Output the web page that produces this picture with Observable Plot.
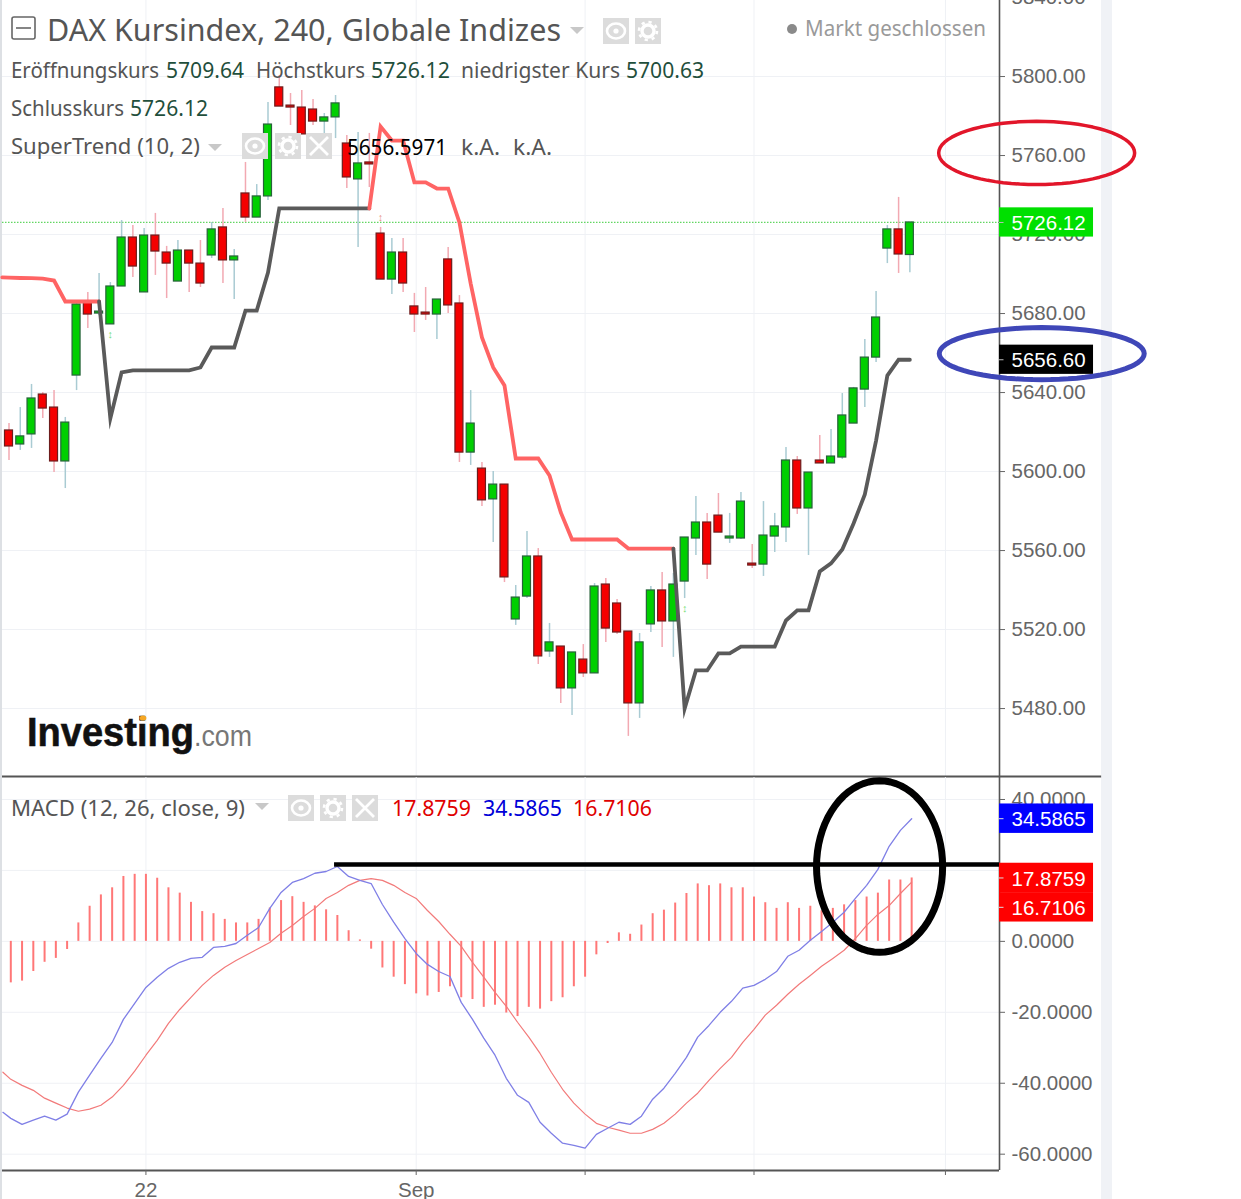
<!DOCTYPE html>
<html><head><meta charset="utf-8">
<style>
html,body{margin:0;padding:0;background:#fff;width:1241px;height:1199px;overflow:hidden}
#top,#bot,#over,#leftStrip,#rightStrip{position:absolute;left:0}
#leftStrip{top:0;width:2px;height:1199px;background:#dde0e4}
#rightStrip{top:0;left:1101px;width:11px;height:1199px;background:#f0f2f6}
#top{top:0}#bot{top:777px}#over{top:0;pointer-events:none}
svg{overflow:hidden}
</style>
<script src="https://cdn.jsdelivr.net/npm/d3@7"></script>
<script src="https://cdn.jsdelivr.net/npm/@observablehq/plot@0.6"></script>
</head><body>
<div id="leftStrip"></div><div id="rightStrip"></div>
<div id="top"></div><div id="bot"></div>
<script>
const opens = [5620.8,5613.7,5618.8,5639.0,5632.4,5605.1,5648.6,5686.1,5680.0,5674.5,
5693.7,5718.5,5690.7,5719.5,5710.9,5696.2,5711.9,5705.3,5709.4,5723.6,
5706.9,5740.8,5728.6,5739.3,5794.5,5785.3,5784.3,5783.3,5777.2,5779.3,
5766.1,5747.9,5756.5,5720.5,5697.2,5710.9,5683.6,5680.5,5679.5,5707.4,
5685.1,5609.6,5601.5,5585.9,5593.4,5525.1,5536.7,5557.0,5508.9,5511.4,
5490.2,5504.8,5497.8,5542.8,5533.2,5519.0,5482.6,5522.6,5539.8,5524.1,
5544.3,5566.1,5574.2,5577.7,5566.1,5566.1,5553.4,5552.9,5567.1,5571.7,
5605.6,5581.3,5605.6,5604.1,5607.1,5624.3,5641.5,5657.7,5712.9,5722.6,5709.64];
const highs = [5624.3,5632.4,5644.1,5640.0,5641.0,5627.4,5685.1,5690.7,5700.3,5695.7,
5727.1,5724.6,5723.1,5730.7,5714.0,5717.0,5711.9,5717.0,5726.1,5733.2,
5712.4,5756.5,5745.3,5786.9,5800.5,5791.4,5792.9,5788.4,5781.3,5790.4,
5770.1,5771.7,5771.2,5723.6,5718.0,5718.0,5690.2,5693.2,5687.1,5713.4,
5689.1,5641.0,5604.6,5600.0,5593.4,5542.3,5569.6,5561.0,5523.1,5511.4,
5508.4,5512.4,5543.3,5545.9,5535.2,5519.0,5518.0,5541.8,5548.9,5548.4,
5566.6,5587.4,5578.8,5588.9,5578.8,5589.4,5563.1,5584.8,5578.8,5612.2,
5607.6,5599.5,5618.3,5621.3,5639.5,5642.6,5666.9,5691.2,5724.6,5738.8,5726.12];
const lows = [5605.6,5610.7,5611.7,5626.9,5599.5,5591.4,5641.0,5672.4,5679.0,5674.5,
5693.7,5698.3,5690.7,5699.3,5687.6,5696.2,5690.7,5693.2,5707.9,5695.2,
5687.1,5726.1,5728.6,5737.2,5784.8,5775.2,5770.7,5775.2,5758.5,5768.6,
5743.3,5713.4,5743.8,5697.2,5689.6,5690.7,5670.4,5676.5,5666.9,5680.0,
5604.6,5603.1,5582.3,5564.1,5543.8,5522.1,5535.7,5502.3,5505.9,5482.6,
5476.5,5495.7,5497.8,5513.5,5517.5,5465.9,5475.0,5518.5,5510.9,5505.9,
5535.7,5557.5,5545.3,5569.1,5563.6,5565.6,5550.9,5546.9,5559.0,5564.1,
5578.3,5557.5,5604.1,5604.1,5606.1,5624.3,5632.4,5655.2,5705.3,5700.3,5700.63];
const closes = [5612.7,5617.8,5637.0,5631.9,5605.1,5624.8,5684.6,5679.5,5681.0,5693.7,
5718.5,5703.8,5719.5,5711.4,5705.3,5711.9,5705.3,5695.2,5722.6,5706.9,
5708.9,5728.6,5739.3,5775.7,5784.8,5784.3,5770.7,5777.2,5779.3,5786.4,
5748.9,5756.0,5755.5,5697.2,5710.9,5695.2,5679.5,5679.5,5687.1,5684.1,
5609.6,5624.3,5585.4,5593.4,5546.4,5536.2,5557.0,5506.4,5513.5,5490.2,
5508.4,5497.8,5541.8,5520.5,5518.5,5482.6,5513.5,5539.8,5524.1,5542.8,
5566.6,5574.2,5552.9,5569.1,5567.1,5584.8,5552.4,5567.6,5572.2,5605.6,
5581.3,5599.5,5604.1,5607.6,5628.4,5642.1,5657.7,5678.0,5722.6,5709.9,5726.12];

const trendDownA = [[-0.6,5698.3],[0,5698.2],[1,5698.0],[2,5697.9],[3,5697.7],[4,5696.7],[5,5686.1],[6,5686.1],[7,5686.1],[8,5686.1]];
const trendUpA = [[8,5686.1],[9,5626.9],[10,5650.2],[11,5651.2],[12,5651.2],[13,5651.2],[14,5651.2],[15,5651.2],[16,5651.2],[17,5652.7],[18,5662.8],[19,5662.8],[20,5662.8],[21,5681.5],[22,5681.5],[23,5700.8],[24,5733.2],[25,5733.2],[26,5733.2],[27,5733.2],[28,5733.2],[29,5733.2],[30,5733.2],[31,5733.2],[32,5733.2]];
const trendDownB = [[32,5733.2],[33,5774.7],[34,5767.6],[35,5767.6],[36,5746.4],[37,5746.4],[38,5743.3],[39,5743.3],[40,5726.1],[41,5695.2],[42,5667.9],[43,5652.7],[44,5643.6],[45,5606.6],[46,5606.6],[47,5606.6],[48,5598.0],[49,5579.3],[50,5565.6],[51,5565.6],[52,5565.6],[53,5565.6],[54,5565.6],[55,5561.0],[56,5561.0],[57,5561.0],[58,5561.0],[59,5561.0]];
const trendUpB = [[59,5561.0],[60,5480.0],[61,5499.3],[62,5499.3],[63,5507.9],[64,5507.9],[65,5511.4],[66,5511.4],[67,5511.4],[68,5511.4],[69,5524.6],[70,5529.7],[71,5529.7],[72,5549.4],[73,5553.5],[74,5560.5],[75,5573.7],[76,5588.4],[77,5615.7],[78,5648.6],[79,5656.6],[80,5656.6]];

const hist = [-11.7,-11.2,-8.5,-5.9,-4.8,-2.3,5.2,9.9,13.1,15.1,
18.3,18.9,18.9,17.8,15.1,13.6,11.0,8.4,7.8,6.2,
5.2,5.2,6.2,9.4,11.5,12.6,11.0,10.0,8.9,7.3,
3.0,0.4,-2.2,-7.5,-10.1,-12.2,-14.8,-15.4,-14.4,-12.8,
-15.9,-16.4,-18.6,-18.0,-20.2,-21.2,-18.6,-19.1,-17.0,-15.9,
-12.8,-10.1,-3.8,-0.6,2.4,2.0,4.6,7.8,8.8,10.8,
13.5,16.2,15.7,16.2,15.1,15.1,12.5,10.9,9.3,10.9,
9.3,9.9,8.6,9.3,10.3,11.5,12.5,13.6,17.3,17.3,17.8759];
const macdLine = [-49.9,-51.6,-50.4,-49.3,-50.4,-48.7,-42.5,-37.7,-33.0,-28.5,
-22.0,-17.5,-13.0,-10.1,-7.6,-5.9,-4.8,-4.5,-1.7,-1.4,
-0.6,1.7,3.9,9.3,13.8,16.6,17.7,19.2,19.7,21.1,
18.3,17.2,16.3,10.4,5.4,0.8,-3.4,-6.5,-8.5,-9.9,
-17.2,-22.0,-27.3,-32.1,-38.6,-43.4,-45.4,-51.0,-54.1,-56.9,
-57.5,-58.3,-54.4,-52.7,-51.0,-51.6,-49.3,-44.5,-41.4,-37.2,
-32.7,-27.0,-23.7,-20.0,-16.9,-13.2,-12.4,-10.7,-8.5,-4.2,
-2.5,0.3,2.8,5.4,8.2,12.1,15.8,20.3,26.8,31.3,34.5865];
const signalLine = [-38.9,-40.6,-42.0,-44.2,-45.6,-47.0,-47.9,-47.3,-46.2,-43.9,
-40.6,-36.6,-32.1,-27.9,-23.1,-19.2,-15.8,-12.4,-9.6,-7.3,
-5.4,-3.7,-2.0,-0.3,2.3,4.5,7.0,9.3,12.1,13.8,
15.8,17.2,17.7,17.2,15.8,13.8,12.1,8.7,5.6,2.0,
-1.4,-5.9,-10.1,-14.4,-18.3,-22.8,-27.0,-31.6,-36.9,-41.7,
-45.6,-48.7,-51.3,-52.4,-53.2,-54.1,-54.1,-53.0,-51.3,-48.7,
-45.6,-42.8,-39.2,-35.8,-32.7,-28.5,-24.8,-20.8,-18.0,-14.9,
-12.1,-9.6,-7.0,-4.8,-2.5,0.8,4.5,7.6,10.1,13.5,16.7106];
const macdLead = -48.2, signalLead = -36.9;

const priceTicks = [5480,5520,5560,5600,5640,5680,5720,5760,5800,5840];
const macdTicks = [-60,-40,-20,0,20,40];
const timeTicks = [12,36,51,66,83];
const timeLabels = {12:"22",36:"Sep"};
const priceTags = [{v:5726.12,label:"5726.12",fill:"#00e000"},{v:5656.60,label:"5656.60",fill:"#000000"}];
const macdTags = [{v:34.5865,label:"34.5865",fill:"#0000ff"},{v:17.8759,label:"17.8759",fill:"#ff0000"},{v:9.6,label:"16.7106",fill:"#ff0000"}];
const upMarks = [[9,5669.4],[60,5530.7]], downMarks = [[33,5728.6]];
const lastClose = 5726.12;

const xDomain = [-0.737,87.8], xPanelEnd = 96.87, tagEnd = 96.15, tagText = 88.87, tagTickEnd = 88.2;
const candleShift = -1.8;
const idx = d3.range(81);
const isUp = i => closes[i] >= opens[i];
const grid = "#eff1f5", ink = "#666";
const font = {fontFamily:"'Liberation Sans',Arial,sans-serif",fontSize:"20.5px",background:"transparent",overflow:"visible"};
const ring = (cx,cy,rx,ry) => d3.range(0,73).map(k=>[cx+rx*Math.cos(k/72*2*Math.PI),cy+ry*Math.sin(k/72*2*Math.PI)]);
const trend = (data,stroke) => Plot.line(data,{x:d=>d[0],y:d=>d[1],stroke,strokeWidth:3.8,dx:candleShift,strokeLinejoin:"miter",strokeMiterlimit:10,curve:"linear"});

const priceDomain = [5445.6,5838.5];
const priceChart = Plot.plot({
  width:1241,height:778,marginTop:0,marginBottom:2,marginLeft:2,marginRight:242,
  style:font,
  x:{type:"linear",domain:xDomain,axis:null},
  y:{type:"linear",domain:priceDomain,axis:null},
  marks:[
    Plot.ruleY(priceTicks,{stroke:grid}),
    Plot.ruleX(timeTicks,{stroke:grid}),
    Plot.ruleY([lastClose],{stroke:"#62d662",strokeDasharray:"1.5 1.5",strokeWidth:1.2}),
    Plot.ruleX(idx,{x:i=>i,y1:i=>lows[i],y2:i=>highs[i],dx:candleShift,strokeWidth:1.5,stroke:i=>isUp(i)?"#a9cbd3":"#f2a9b2"}),
    Plot.rect(idx,{x1:i=>i-0.355,x2:i=>i+0.355,y1:i=>opens[i],y2:i=>closes[i],dx:candleShift,
      fill:i=>isUp(i)?"#00cf00":"#f40000",stroke:i=>isUp(i)?"#27623a":"#6d1c1c",strokeWidth:1.2}),
    trend(trendDownA,"#ff6464"),trend(trendUpA,"#5a5a5a"),trend(trendDownB,"#ff6464"),trend(trendUpB,"#5a5a5a"),
    Plot.text(upMarks,{x:d=>d[0],y:d=>d[1],text:()=>"↕",dx:candleShift,fill:"#7be07b",fontSize:11}),
    Plot.text(downMarks,{x:d=>d[0],y:d=>d[1],text:()=>"↕",dx:candleShift,fill:"#e89a8a",fontSize:11}),
    Plot.ruleX([xDomain[1]],{stroke:"#555",strokeWidth:1.6}),
    Plot.ruleY([priceDomain[0]],{x1:xDomain[0],x2:xPanelEnd,stroke:"#555",strokeWidth:2}),
    Plot.axisY(priceTicks,{anchor:"right",tickSize:5,tickPadding:7,color:ink,tickFormat:d=>d.toFixed(2),label:null}),
    Plot.rect(priceTags,{x1:xDomain[1],x2:tagEnd,y1:d=>d.v-7.4,y2:d=>d.v+7.4,fill:"fill"}),
    Plot.ruleY(priceTags,{y:"v",x1:xDomain[1],x2:tagTickEnd,stroke:"#bbb"}),
    Plot.text(priceTags,{x:tagText,y:"v",dy:1,text:"label",fill:"#fff",textAnchor:"start"}),
    Plot.line(ring(91.1,5761.3,8.7,16),{x:d=>d[0],y:d=>d[1],stroke:"#e2162a",strokeWidth:3.5}),
    Plot.line(ring(91.55,5659.7,9.1,13.2),{x:d=>d[0],y:d=>d[1],stroke:"#3f47b8",strokeWidth:5})
  ]
});
document.getElementById("top").append(priceChart);

const macdDomain = [-64.6,46.2];
const macdChart = Plot.plot({
  width:1241,height:422,marginTop:0,marginBottom:29,marginLeft:2,marginRight:242,
  style:font,
  x:{type:"linear",domain:xDomain,axis:null},
  y:{type:"linear",domain:macdDomain,axis:null},
  marks:[
    Plot.ruleY(macdTicks,{stroke:grid}),
    Plot.ruleX(timeTicks,{stroke:grid}),
    Plot.ruleX(idx,{x:i=>i,y1:0,y2:i=>hist[i],stroke:"#f77",strokeWidth:2}),
    Plot.line([[-0.7,signalLead],...signalLine.map((v,i)=>[i,v])],{x:d=>d[0],y:d=>d[1],stroke:"#f27a7a",strokeWidth:1.2}),
    Plot.line([[-0.7,macdLead],...macdLine.map((v,i)=>[i,v])],{x:d=>d[0],y:d=>d[1],stroke:"#7f7fe6",strokeWidth:1.3}),
    Plot.ruleX([xDomain[1]],{stroke:"#555",strokeWidth:1.6}),
    Plot.ruleY([macdDomain[0]],{stroke:"#555",strokeWidth:2}),
    Plot.axisY(macdTicks,{anchor:"right",tickSize:5,tickPadding:7,color:ink,tickFormat:d=>d.toFixed(4),label:null}),
    Plot.axisX(timeTicks,{anchor:"bottom",tickSize:5,tickPadding:7,color:ink,tickFormat:d=>timeLabels[d]||"",label:null}),
    Plot.rect(macdTags,{x1:xDomain[1],x2:tagEnd,y1:d=>d.v-4.15,y2:d=>d.v+4.15,fill:"fill"}),
    Plot.ruleY(macdTags,{y:"v",x1:xDomain[1],x2:tagTickEnd,stroke:"#ddd"}),
    Plot.text(macdTags,{x:tagText,y:"v",dy:1,text:"label",fill:"#fff",textAnchor:"start"}),
    Plot.ruleY([21.7],{x1:28.75,x2:xDomain[1],stroke:"#000",strokeWidth:4.5}),
    Plot.line(ring(77.15,21.1,5.6,24.2),{x:d=>d[0],y:d=>d[1],stroke:"#000",strokeWidth:7})
  ]
});
document.getElementById("bot").append(macdChart);

/* header chrome */
const ov = d3.select("body").append("svg").attr("id","over").attr("width",1241).attr("height",1199);
const LAB="#555", VAL="#1f4f3c", F="'Noto Sans',sans-serif";
const T=(s,x1,x2,y,size,fill,fam=F,weight=400)=>ov.append("text").text(s).attr("x",x1).attr("y",y)
  .attr("textLength",x2-x1).attr("lengthAdjust","spacingAndGlyphs").attr("font-family",fam).attr("font-size",size).attr("font-weight",weight).attr("fill",fill);
T("DAX Kursindex, 240, Globale Indizes",47,561,41,30.5,LAB);
T("Eröffnungskurs",11,159,78,21,LAB);T("5709.64",166,244,78,21,VAL);
T("Höchstkurs",256,365,78,21,LAB);T("5726.12",371,450,78,21,VAL);
T("niedrigster Kurs",461,620,78,21,LAB);T("5700.63",626,704,78,21,VAL);
T("Schlusskurs",11,124,116,21,LAB);T("5726.12",130,208,116,21,VAL);
T("SuperTrend (10, 2)",11,200,154,21,LAB);
T("5656.5971",347,447,155,21,"#000");T("k.A.",461,500,155,21,LAB);T("k.A.",513,552,155,21,LAB);
T("Markt geschlossen",805,986,36,21,"#9a9a9a");
T("MACD (12, 26, close, 9)",11,245,816,21,LAB);
T("17.8759",392,471,816,21,"#e00000");T("34.5865",483,562,816,21,"#0000d8");T("16.7106",573,652,816,21,"#e00000");
ov.append("circle").attr("cx",792).attr("cy",29).attr("r",5).attr("fill","#8a8a8a");
ov.append("rect").attr("x",12).attr("y",17).attr("width",23).attr("height",22).attr("rx",2).attr("fill","none").attr("stroke","#666").attr("stroke-width",1.6);
ov.append("line").attr("x1",16).attr("x2",31).attr("y1",28).attr("y2",28).attr("stroke","#666").attr("stroke-width",1.6);
const caret=(x,y)=>ov.append("path").attr("d",`M${x} ${y}h14l-7 7z`).attr("fill","#c8c8c8");
caret(570,27);caret(208,144);caret(255,803);
const box=(x,y,kind)=>{
  ov.append("rect").attr("x",x).attr("y",y).attr("width",26).attr("height",26).attr("fill","#dcdcdc");
  const cx=x+13,cy=y+13;
  if(kind==="eye"){ov.append("ellipse").attr("cx",cx).attr("cy",cy).attr("rx",9).attr("ry",7.5).attr("fill","none").attr("stroke","#fff").attr("stroke-width",2.6);
    ov.append("circle").attr("cx",cx).attr("cy",cy).attr("r",2.6).attr("fill","#fff");}
  if(kind==="gear"){ov.append("circle").attr("cx",cx).attr("cy",cy).attr("r",6).attr("fill","none").attr("stroke","#fff").attr("stroke-width",3.4);
    ov.append("circle").attr("cx",cx).attr("cy",cy).attr("r",9).attr("fill","none").attr("stroke","#fff").attr("stroke-width",2.6).attr("stroke-dasharray","3.2 3.9");}
  if(kind==="x"){ov.append("path").attr("d",`M${cx-9} ${cy-9}L${cx+9} ${cy+9}M${cx+9} ${cy-9}L${cx-9} ${cy+9}`).attr("stroke","#fff").attr("stroke-width",2.8);}
};
box(603,18,"eye");box(635,18,"gear");
box(242,133,"eye");box(275,133,"gear");box(306,133,"x");
box(288,795,"eye");box(320,795,"gear");box(352,795,"x");
T("Investing",27,194,746,41,"#111","'Liberation Sans',sans-serif",700).attr("stroke","#111").attr("stroke-width",0.6);
T(".com",194,252,746,29,"#777","'Liberation Sans',sans-serif",400);
ov.append("ellipse").attr("cx",143).attr("cy",718).attr("rx",3.4).attr("ry",2.6).attr("fill","#f5a623");
</script>
</body></html>
